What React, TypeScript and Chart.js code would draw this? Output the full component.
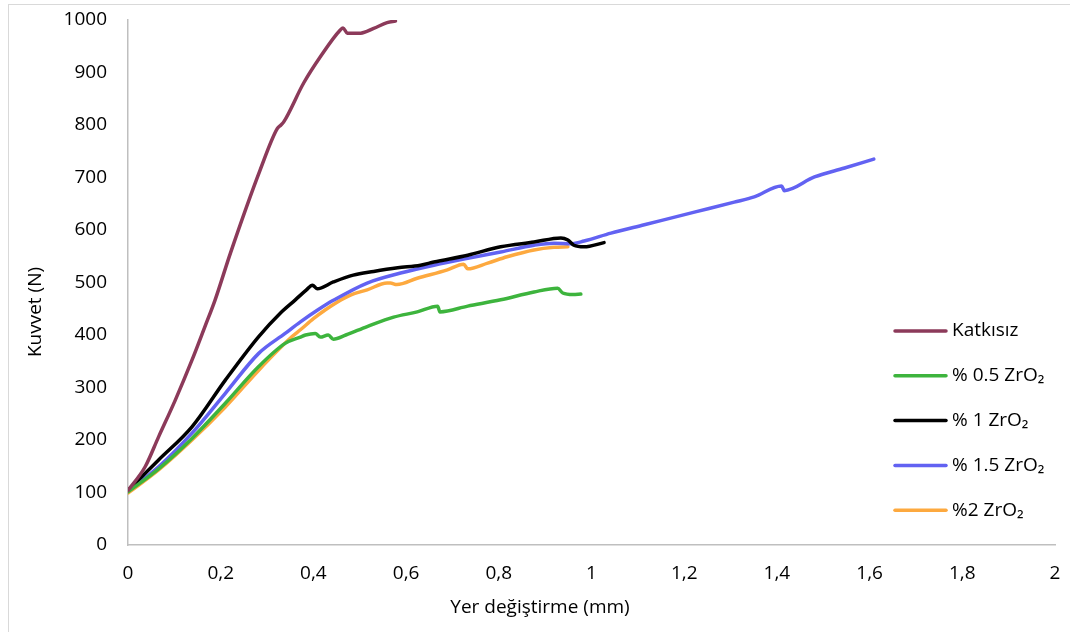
import React, { useEffect, useRef } from "react";
import { Chart, registerables } from "chart.js";

Chart.register(...registerables);

const seriesLabels = ["Katkısız", "% 0.5 ZrO₂", "% 1 ZrO₂", "% 1.5 ZrO₂", "%2 ZrO₂"];
const seriesColors = ["#8C3A5A", "#3DB43D", "#000000", "#6262F2", "#FDA93F"];

const katkisizX = [0, 0.037, 0.066, 0.102, 0.138, 0.166, 0.188, 0.221, 0.285, 0.322, 0.33, 0.336, 0.379, 0.415, 0.458, 0.464, 0.473, 0.502, 0.53, 0.559, 0.577];
const katkisizY = [104, 149, 206, 276, 352, 416, 467, 556, 714, 793, 800, 806, 880, 930, 981, 985, 975, 975, 984, 995, 998];

const zr05X = [0, 0.066, 0.138, 0.21, 0.282, 0.339, 0.372, 0.383, 0.404, 0.415, 0.432, 0.443, 0.47, 0.516, 0.573, 0.624, 0.668, 0.673, 0.733, 0.804, 0.876, 0.927, 0.938, 0.96, 0.977];
const zr05Y = [101, 145, 203, 270, 340, 384, 396, 400, 403, 396, 400, 392, 400, 416, 434, 444, 455, 444, 455, 467, 482, 489, 480, 477, 478];

const zr1X = [0, 0.066, 0.138, 0.21, 0.282, 0.329, 0.361, 0.385, 0.398, 0.408, 0.443, 0.486, 0.53, 0.582, 0.631, 0.66, 0.733, 0.804, 0.876, 0.934, 0.949, 0.962, 0.984, 1.027];
const zr1Y = [104, 162, 225, 314, 397, 442, 467, 486, 495, 488, 501, 514, 521, 528, 533, 539, 552, 568, 577, 585, 581, 571, 568, 576];

const zr15X = [0, 0.066, 0.138, 0.21, 0.282, 0.339, 0.372, 0.41, 0.443, 0.516, 0.588, 0.66, 0.733, 0.804, 0.876, 0.919, 0.956, 0.984, 1.042, 1.114, 1.222, 1.308, 1.351, 1.41, 1.416, 1.481, 1.546, 1.609];
const zr15Y = [103, 149, 213, 289, 365, 403, 425, 448, 466, 499, 518, 533, 546, 558, 571, 575, 574, 579, 594, 610, 634, 653, 663, 684, 675, 701, 718, 735];

const zr2X = [0, 0.066, 0.138, 0.21, 0.282, 0.354, 0.372, 0.4, 0.426, 0.452, 0.48, 0.516, 0.559, 0.566, 0.58, 0.624, 0.689, 0.724, 0.733, 0.776, 0.818, 0.876, 0.919, 0.949];
const zr2Y = [99, 143, 200, 263, 333, 397, 410, 431, 448, 463, 476, 486, 499, 499, 496, 508, 524, 535, 526, 537, 549, 562, 567, 568];

const xTickLabels = ["0", "0,2", "0,4", "0,6", "0,8", "1", "1,2", "1,4", "1,6", "1,8", "2"];
const yTickLabels = ["0", "100", "200", "300", "400", "500", "600", "700", "800", "900", "1000"];

const xTitle = "Yer değiştirme (mm)";
const yTitle = "Kuvvet (N)";

const FONT = '"Open Sans", "DejaVu Sans", sans-serif';

const seriesX = [katkisizX, zr05X, zr1X, zr15X, zr2X];
const seriesY = [katkisizY, zr05Y, zr1Y, zr15Y, zr2Y];

const decorPlugin = {
  id: "decor",
  afterDraw(chart: any) {
    const ctx = chart.ctx as CanvasRenderingContext2D;
    ctx.save();
    // outer chart border
    ctx.strokeStyle = "#D9D9D9";
    ctx.lineWidth = 1;
    ctx.strokeRect(8.5, 4.5, 1100, 700);
    // axis titles
    ctx.fillStyle = "#000";
    ctx.font = `19px ${FONT}`;
    ctx.textAlign = "center";
    ctx.textBaseline = "middle";
    ctx.fillText(xTitle, 540, 608);
    ctx.save();
    ctx.translate(36, 312);
    ctx.rotate(-Math.PI / 2);
    ctx.fillText(yTitle, 0, 0);
    ctx.restore();
    // legend
    chart.data.datasets.forEach((ds: any, i: number) => {
      const y = 331 + i * 44.8;
      ctx.strokeStyle = ds.borderColor;
      ctx.lineWidth = 3.5;
      ctx.lineCap = "round";
      ctx.beginPath();
      ctx.moveTo(895, y);
      ctx.lineTo(946, y);
      ctx.stroke();
      ctx.fillStyle = "#000";
      ctx.textAlign = "left";
      ctx.textBaseline = "middle";
      ctx.font = `19px ${FONT}`;
      ctx.fillText(ds.label, 952, y);
    });
    ctx.restore();
  },
};

export default function App() {
  const canvasRef = useRef<HTMLCanvasElement | null>(null);

  useEffect(() => {
    const canvas = canvasRef.current;
    if (!canvas) return;
    const datasets = seriesLabels.map((label, i) => ({
      label,
      data: seriesX[i].map((x, j) => ({ x, y: seriesY[i][j] })),
      borderColor: seriesColors[i],
      backgroundColor: seriesColors[i],
      borderWidth: 3.5,
      pointRadius: 0,
      fill: false,
      cubicInterpolationMode: "monotone" as const,
      borderCapStyle: "round" as const,
      borderJoinStyle: "round" as const,
    }));
    const chart = new Chart(canvas, {
      type: "line",
      data: { datasets },
      options: {
        responsive: false,
        animation: false,
        layout: { padding: { left: 0, right: 15, top: 20, bottom: 0 } },
        plugins: { legend: { display: false }, tooltip: { enabled: false } },
        scales: {
          x: {
            type: "linear",
            min: 0,
            max: 2,
            grid: { display: false, drawTicks: false },
            border: { display: true, color: "#BFBFBF", width: 1.5 },
            ticks: {
              stepSize: 0.2,
              padding: 17,
              color: "#000",
              font: { family: FONT, size: 19 },
              maxRotation: 0,
              autoSkip: false,
              callback: (_v: any, i: number) => xTickLabels[i],
            },
            afterFit: (s: any) => {
              s.height = 87;
              s.paddingLeft = 0;
              s.paddingRight = 0;
            },
          },
          y: {
            min: 0,
            max: 1000,
            grid: { display: false, drawTicks: false },
            border: { display: true, color: "#BFBFBF", width: 1.5 },
            ticks: {
              stepSize: 100,
              padding: 21,
              color: "#000",
              font: { family: FONT, size: 19 },
              autoSkip: false,
              callback: (_v: any, i: number) => yTickLabels[i],
            },
            afterFit: (s: any) => {
              s.width = 128;
              s.paddingTop = 0;
              s.paddingBottom = 0;
            },
          },
        },
      },
      plugins: [decorPlugin],
    });
    return () => chart.destroy();
  }, []);

  return (
    <div style={{ position: "fixed", left: 0, top: 0, width: 1070, height: 632, background: "#fff" }}>
      <canvas ref={canvasRef} width={1070} height={632} style={{ width: 1070, height: 632 }} />
    </div>
  );
}
